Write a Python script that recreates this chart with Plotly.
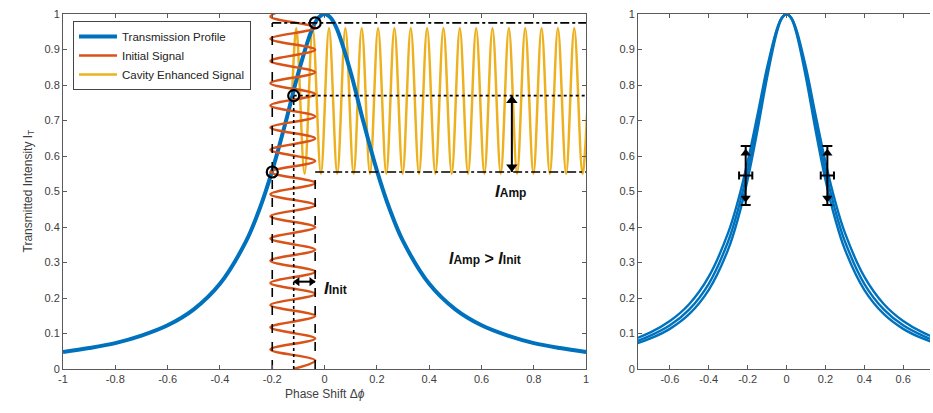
import plotly.graph_objects as go

# ---------------- data ----------------
# Transmission profile (left panel) sampled along the phase shift axis
phase = [-1.0, -0.9, -0.8, -0.7, -0.6, -0.5, -0.4, -0.3, -0.25, -0.2, -0.15, -0.1, -0.05, -0.025,
         0.0, 0.025, 0.05, 0.1, 0.15, 0.2, 0.25, 0.3, 0.4, 0.5, 0.6, 0.7, 0.8, 0.9, 1.0]
transmission = [0.048, 0.059, 0.073, 0.094, 0.123, 0.168, 0.240, 0.360, 0.448, 0.559, 0.692, 0.835, 0.953, 0.988,
                1.0, 0.988, 0.953, 0.835, 0.692, 0.559, 0.448, 0.360, 0.240, 0.168, 0.123, 0.094, 0.073, 0.059, 0.048]

# Narrower / wider profiles shown in the right panel
transmission_narrow = [0.044, 0.054, 0.067, 0.086, 0.113, 0.155, 0.223, 0.337, 0.423, 0.534, 0.671, 0.821, 0.948, 0.987,
                       1.0, 0.987, 0.948, 0.821, 0.671, 0.534, 0.423, 0.337, 0.223, 0.155, 0.113, 0.086, 0.067, 0.054, 0.044]
transmission_wide = [0.053, 0.065, 0.081, 0.103, 0.135, 0.183, 0.260, 0.384, 0.473, 0.584, 0.714, 0.849, 0.957, 0.989,
                     1.0, 0.989, 0.957, 0.849, 0.714, 0.584, 0.473, 0.384, 0.260, 0.183, 0.135, 0.103, 0.081, 0.065, 0.053]

# Initial signal: turning points of the phase modulation (x = phase, y = time axis mapped to intensity)
initial_x = [-0.12,
             -0.036, -0.207, -0.036, -0.207, -0.036, -0.207, -0.036, -0.207,
             -0.036, -0.207, -0.036, -0.207, -0.036, -0.207, -0.036, -0.207,
             -0.036, -0.207, -0.036, -0.207, -0.036, -0.207, -0.036, -0.207,
             -0.036, -0.207, -0.036, -0.207, -0.036, -0.207, -0.036, -0.207,
             -0.16]
initial_y = [0.0,
             0.024, 0.055, 0.086, 0.1175, 0.149, 0.18, 0.211, 0.2425,
             0.274, 0.305, 0.336, 0.3675, 0.399, 0.43, 0.461, 0.4925,
             0.524, 0.555, 0.586, 0.6175, 0.649, 0.68, 0.711, 0.7425,
             0.774, 0.805, 0.836, 0.8675, 0.899, 0.93, 0.961, 0.9925,
             1.01]

# Cavity enhanced signal: turning points of the transmitted intensity
cavity_x = [-0.125,
            -0.108, -0.0765, -0.0455, -0.014, 0.017, 0.0485, 0.0795, 0.111, 0.142, 0.1735,
            0.2045, 0.236, 0.267, 0.2985, 0.3295, 0.361, 0.392, 0.4235, 0.4545, 0.486,
            0.517, 0.5485, 0.5795, 0.611, 0.642, 0.6735, 0.7045, 0.736, 0.767, 0.7985,
            0.8295, 0.861, 0.892, 0.9235, 0.9545, 0.986, 1.017]
cavity_y = [0.755,
            0.96, 0.55, 0.96, 0.55, 0.96, 0.55, 0.96, 0.55, 0.96, 0.55,
            0.96, 0.55, 0.96, 0.55, 0.96, 0.55, 0.96, 0.55, 0.96, 0.55,
            0.96, 0.55, 0.96, 0.55, 0.96, 0.55, 0.96, 0.55, 0.96, 0.55,
            0.96, 0.55, 0.96, 0.55, 0.96, 0.55, 0.96]

# Operating points on the transmission profile
op_phase = [-0.2, -0.118, -0.036]
op_level = [0.555, 0.77, 0.975]

# Amplitude arrows: x position of the I_Amp arrow, y position of the I_Init arrow
amp_x = 0.716
init_y = 0.246

# Error bars on the right panel
err_x = [-0.21, 0.21]
err_y = [0.545, 0.545]
err_dy = [0.083, 0.083]
err_dx = [0.034, 0.034]

# Tick positions
x_ticks_left = [-1, -0.8, -0.6, -0.4, -0.2, 0, 0.2, 0.4, 0.6, 0.8, 1]
x_ticks_right = [-0.6, -0.4, -0.2, 0, 0.2, 0.4, 0.6]
y_ticks = [0, 0.1, 0.2, 0.3, 0.4, 0.5, 0.6, 0.7, 0.8, 0.9, 1]

BLUE = "#0072BD"
ORANGE = "#D95319"
YELLOW = "#EDB120"
AXIS = "#5a5a5a"
TXT = "#404040"
FONT = "Liberation Sans, Arial, sans-serif"


def labels(vals):
    return ["{:g}".format(v) for v in vals]


fig = go.Figure()

# ---------------- left panel ----------------
fig.add_trace(go.Scatter(x=cavity_x, y=cavity_y, mode="lines", name="Cavity Enhanced Signal",
                         line=dict(color=YELLOW, width=2.5, shape="spline"), legendrank=3))
fig.add_trace(go.Scatter(x=phase, y=transmission, mode="lines", name="Transmission Profile",
                         line=dict(color=BLUE, width=4, shape="spline"), legendrank=1))
fig.add_trace(go.Scatter(x=initial_x, y=initial_y, mode="lines", name="Initial Signal",
                         line=dict(color=ORANGE, width=2.5, shape="spline"), legendrank=2))

# guide lines from the operating points
guide = dict(color="black", width=1.6)
# vertical drops
fig.add_trace(go.Scatter(x=[op_phase[0], op_phase[0]], y=[0, op_level[2]], mode="lines",
                         line=dict(guide, dash="dash"), showlegend=False, hoverinfo="skip"))
fig.add_trace(go.Scatter(x=[op_phase[1], op_phase[1]], y=[0, op_level[1]], mode="lines",
                         line=dict(guide, dash="dot"), showlegend=False, hoverinfo="skip"))
fig.add_trace(go.Scatter(x=[op_phase[2], op_phase[2]], y=[0, op_level[0]], mode="lines",
                         line=dict(guide, dash="dash"), showlegend=False, hoverinfo="skip"))
# horizontal levels
fig.add_trace(go.Scatter(x=[op_phase[0], 1], y=[op_level[2], op_level[2]], mode="lines",
                         line=dict(guide, dash="dashdot"), showlegend=False, hoverinfo="skip"))
fig.add_trace(go.Scatter(x=[op_phase[1], 1], y=[op_level[1], op_level[1]], mode="lines",
                         line=dict(guide, dash="dot"), showlegend=False, hoverinfo="skip"))
fig.add_trace(go.Scatter(x=[op_phase[2], 1], y=[op_level[0], op_level[0]], mode="lines",
                         line=dict(guide, dash="dashdot"), showlegend=False, hoverinfo="skip"))

# operating point circles
fig.add_trace(go.Scatter(x=op_phase, y=op_level, mode="markers", showlegend=False, hoverinfo="skip",
                         marker=dict(symbol="circle-open", size=11, color="black", line=dict(width=2.2))))

# double-headed amplitude arrows: shaft plus triangle heads set just inside the ends
fig.add_trace(go.Scatter(x=[amp_x, amp_x], y=[op_level[0], op_level[1]], mode="lines",
                         showlegend=False, hoverinfo="skip", line=dict(color="black", width=2)))
fig.add_trace(go.Scatter(x=[amp_x], y=[op_level[1] - 0.014], mode="markers", showlegend=False,
                         hoverinfo="skip", marker=dict(symbol="triangle-up", size=10, color="black")))
fig.add_trace(go.Scatter(x=[amp_x], y=[op_level[0] + 0.014], mode="markers", showlegend=False,
                         hoverinfo="skip", marker=dict(symbol="triangle-down", size=10, color="black")))
fig.add_trace(go.Scatter(x=[op_phase[1], op_phase[2]], y=[init_y, init_y], mode="lines",
                         showlegend=False, hoverinfo="skip", line=dict(color="black", width=2)))
fig.add_trace(go.Scatter(x=[op_phase[1] + 0.014], y=[init_y], mode="markers", showlegend=False,
                         hoverinfo="skip", marker=dict(symbol="triangle-left", size=8, color="black")))
fig.add_trace(go.Scatter(x=[op_phase[2] - 0.014], y=[init_y], mode="markers", showlegend=False,
                         hoverinfo="skip", marker=dict(symbol="triangle-right", size=8, color="black")))

# ---------------- right panel ----------------
for prof in (transmission_narrow, transmission, transmission_wide):
    fig.add_trace(go.Scatter(x=phase, y=prof, mode="lines", xaxis="x2", yaxis="y2", showlegend=False,
                             line=dict(color=BLUE, width=2.4, shape="spline"), hoverinfo="skip"))

fig.add_trace(go.Scatter(x=err_x, y=err_y, mode="markers", xaxis="x2", yaxis="y2", showlegend=False,
                         marker=dict(size=1, color="black"), hoverinfo="skip",
                         error_y=dict(type="data", array=err_dy, color="black", thickness=2, width=5),
                         error_x=dict(type="data", array=err_dx, color="black", thickness=2, width=4)))
fig.add_trace(go.Scatter(x=err_x, y=[e + d - 0.02 for e, d in zip(err_y, err_dy)], mode="markers",
                         xaxis="x2", yaxis="y2", showlegend=False, hoverinfo="skip",
                         marker=dict(symbol="triangle-up", size=9, color="black")))
fig.add_trace(go.Scatter(x=err_x, y=[e - d + 0.02 for e, d in zip(err_y, err_dy)], mode="markers",
                         xaxis="x2", yaxis="y2", showlegend=False, hoverinfo="skip",
                         marker=dict(symbol="triangle-down", size=9, color="black")))

# ---------------- annotations ----------------
annotations = [
    dict(x=0.71, y=0.5, xref="x", yref="y", showarrow=False,
         text='<b><i>I</i><span style="font-size:12px">Amp</span></b>',
         font=dict(family=FONT, size=17, color="#111")),
    dict(x=0.615, y=0.31, xref="x", yref="y", showarrow=False,
         text='<b><i>I</i><span style="font-size:12px">Amp</span> &gt; <i>I</i><span style="font-size:12px">Init</span></b>',
         font=dict(family=FONT, size=16, color="#111")),
    dict(x=0.04, y=0.226, xref="x", yref="y", showarrow=False,
         text='<b><i>I</i><span style="font-size:12px">Init</span></b>',
         font=dict(family=FONT, size=17, color="#111")),
    # axis titles
    dict(x=0, y=0.5, xref="paper", yref="paper", xshift=-45, showarrow=False, textangle=-90,
         text="Transmitted Intensity I<sub>T</sub>", font=dict(family=FONT, size=12, color=TXT)),
    dict(x=0, y=0, xref="x", yref="paper", yshift=-34, showarrow=False,
         text="Phase Shift Δ<i>ϕ</i>", font=dict(family=FONT, size=12, color=TXT)),
]

axis_common = dict(showgrid=False, zeroline=False, showline=True, linecolor=AXIS, linewidth=1,
                   ticks="inside", ticklen=4, tickcolor=AXIS, tickwidth=1,
                   tickfont=dict(family=FONT, size=11, color=TXT))

fig.update_layout(
    width=933, height=413,
    margin=dict(l=63, r=0, t=14, b=44),
    paper_bgcolor="white", plot_bgcolor="white",
    font=dict(family=FONT, color=TXT),
    xaxis=dict(axis_common, domain=[0, 0.6034], range=[-1, 1], tickvals=x_ticks_left,
               ticktext=labels(x_ticks_left), mirror="ticks", anchor="y"),
    yaxis=dict(axis_common, domain=[0, 1], range=[0, 1], tickvals=y_ticks, ticktext=labels(y_ticks),
               mirror="ticks", anchor="x"),
    xaxis2=dict(axis_common, domain=[0.6632, 1], range=[-0.764, 0.738], tickvals=x_ticks_right,
                ticktext=labels(x_ticks_right), mirror="ticks", anchor="y2"),
    yaxis2=dict(axis_common, domain=[0, 1], range=[0, 1], tickvals=y_ticks, ticktext=labels(y_ticks),
                mirror=False, anchor="x2"),
    legend=dict(x=0.0115, y=0.98, xanchor="left", yanchor="top", bgcolor="white",
                bordercolor="#444", borderwidth=1, font=dict(family=FONT, size=11.5, color="#222"),
                tracegroupgap=0, itemwidth=38),
    annotations=annotations,
    showlegend=True,
)

fig.write_html("out.html")
